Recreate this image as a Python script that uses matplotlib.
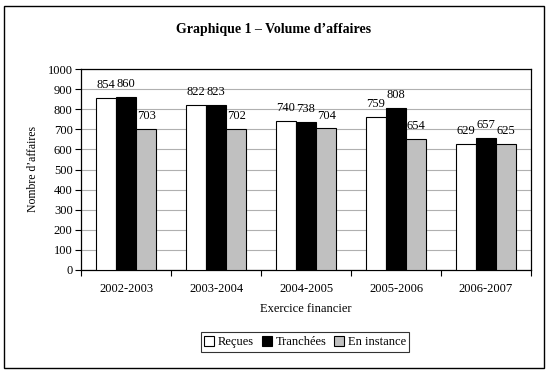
import matplotlib
matplotlib.use("Agg")
import matplotlib.pyplot as plt
import numpy as np
from matplotlib.patches import Rectangle

categories = ["2002-2003", "2003-2004", "2004-2005", "2005-2006", "2006-2007"]
recues = [854, 822, 740, 759, 629]
tranchees = [860, 823, 738, 808, 657]
en_instance = [703, 702, 704, 654, 625]
series_names = ["Reçues", "Tranchées", "En instance"]
colors = ["white", "black", "#c0c0c0"]

plt.rcParams['font.family'] = ['Liberation Serif', 'DejaVu Serif']

W, H = 548, 375
fig = plt.figure(figsize=(W/100, H/100), dpi=100)
ax = fig.add_axes([81/W, 1-270/H, (531-81)/W, (270-69)/H])

# outer frame
fig.patches.append(Rectangle((4/W, 1-368/H), (544-4)/W, (368-6)/H, transform=fig.transFigure,
                             fill=False, edgecolor='black', linewidth=1.0))

x = np.arange(len(categories))
bw = 0.225
data = [recues, tranchees, en_instance]
for i, (vals, c, name) in enumerate(zip(data, colors, series_names)):
    pos = x + (i - 1) * bw
    ax.bar(pos, vals, bw, color=c, edgecolor='black', linewidth=0.8, label=name, zorder=3)
    for p, v in zip(pos, vals):
        ax.annotate(str(v), (p, v), xytext=(0, 5), textcoords='offset points',
                    ha='center', va='bottom', fontsize=9, zorder=4)

ax.set_ylim(0, 1000)
ax.set_xlim(-0.5, len(categories) - 0.5)
ax.set_yticks(range(0, 1001, 100))
ax.yaxis.grid(True, color='#b0b0b0', linewidth=0.8, zorder=0)
ax.set_axisbelow(True)
ax.set_xticks(x)
ax.set_xticklabels(categories, fontsize=9)
ax.tick_params(axis='x', length=0, pad=9)
ax.set_xticks(np.arange(-0.5, len(categories) + 0.5, 1), minor=True)
ax.tick_params(axis='x', which='minor', length=4, width=0.8, direction='out')
ax.tick_params(axis='y', length=4, width=0.8, direction='out', labelsize=9, pad=2)
for s in ax.spines.values():
    s.set_linewidth(0.9)
    s.set_color('black')

ax.set_xlabel("Exercice financier", fontsize=9, labelpad=6)
ax.set_ylabel("Nombre d’affaires", fontsize=8.5, labelpad=6)

fig.text(0.5, 1-30/H, "Graphique 1 – Volume d’affaires", ha='center', va='center',
         fontsize=10, fontweight='bold')

leg = fig.legend(loc='center', bbox_to_anchor=(305/W, 1-342/H), ncol=3, fontsize=9,
                 frameon=True, fancybox=False, edgecolor='black', handlelength=0.8,
                 handleheight=0.8, handletextpad=0.3, columnspacing=0.6,
                 borderpad=0.3, borderaxespad=0)
leg.get_frame().set_linewidth(0.8)

fig.savefig("out.png", dpi=100)
